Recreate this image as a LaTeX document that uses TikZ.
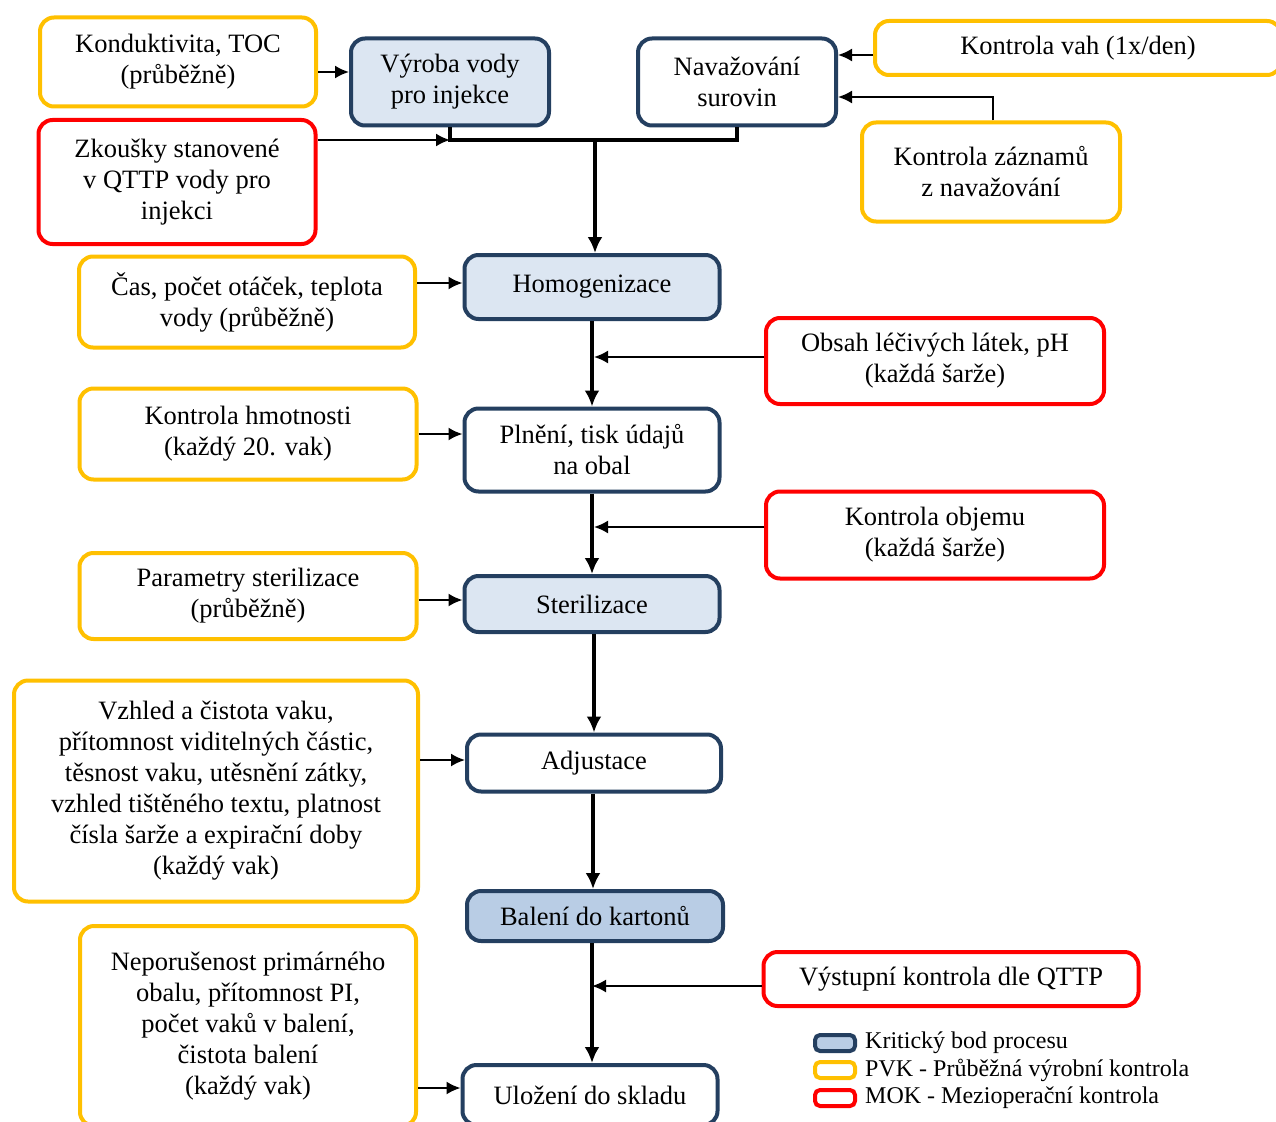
\documentclass[tikz,border=0pt]{standalone}
\usepackage{fontspec}
\setmainfont{Liberation Serif}
\usetikzlibrary{arrows.meta,calc}
\definecolor{pvkyellow}{HTML}{FFC000}
\definecolor{mokred}{HTML}{FF0000}
\definecolor{procblue}{HTML}{243F60}
\definecolor{kritfill}{HTML}{DCE6F2}
\definecolor{balfill}{HTML}{B9CDE5}
\tikzset{
  box/.style={rounded corners=14pt, line width=4pt, align=center, inner sep=2pt},
  sz/.style 2 args={minimum width=#1pt, minimum height=#2pt},
  pvk/.style={box, draw=pvkyellow, fill=white},
  mok/.style={box, draw=mokred, fill=white},
  proc/.style={box, draw=procblue, fill=white},
  krit/.style={box, draw=procblue, fill=kritfill},
  legbox/.style={rounded corners=5pt, line width=4pt, minimum width=40pt, minimum height=16pt, inner sep=0pt},
  ctrl/.style={-{Latex[length=14pt,width=13pt]}, line width=2pt},
  flow/.style={-{Latex[length=16pt,width=15pt]}, line width=4.5pt},
  bus/.style={line width=4.5pt}
}
\begin{document}
\begin{tikzpicture}[x=1pt, y=-1pt, >=Latex, font=\fontsize{26.5}{31}\selectfont]
\clip (0,0) rectangle (1276,1121);
\fill[white] (0,0) rectangle (1276,1121);

% hlavni proces
\node[krit, sz={198}{87}] (vyroba) at (450,82) {Výroba vody\\pro injekce};
\node[proc, sz={198}{87}] (navaz) at (737,82) {Navažování\\surovin};
\node[krit, sz={255}{64}] (homog) at (592,287) {Homogenizace};
\node[proc, sz={255}{83}] (plneni) at (592,450) {Plnění, tisk údajů\\na obal};
\node[krit, sz={255}{56}] (steril) at (592,604) {Sterilizace};
\node[proc, sz={254}{57}] (adjust) at (594,763) {Adjustace};
\node[krit, fill=balfill, sz={256}{50}] (baleni) at (595,916) {Balení do kartonů};
\node[proc, sz={255}{60}] (ulozeni) at (590,1095) {Uložení do skladu};

% kontroly
\node[pvk, sz={276}{89}] (kond) at (178,62) {Konduktivita, TOC\\(průběžně)};
\node[mok, sz={277}{124}] (zkous) at (177,182) {Zkoušky stanovené\\v QTTP vody pro\\injekci};
\node[pvk, sz={406}{54}] (vah) at (1078,48) {Kontrola vah (1x/den)};
\node[pvk, sz={258}{99}] (zaznam) at (991,172) {Kontrola záznamů\\z navažování};
\node[pvk, sz={336}{91}] (cas) at (247,302) {Čas, počet otáček, teplota\\vody (průběžně)};
\node[mok, sz={338}{86}] (obsah) at (935,361) {Obsah léčivých látek, pH\\(každá šarže)};
\node[pvk, sz={337}{91}] (hmot) at (248,434) {Kontrola hmotnosti\\(každý 20. vak)};
\node[mok, sz={338}{87}] (objem) at (935,535) {Kontrola objemu\\(každá šarže)};
\node[pvk, sz={337}{86}] (param) at (248,596) {Parametry sterilizace\\(průběžně)};
\node[pvk, sz={404}{221}] (vzhled) at (216,791) {Vzhled a čistota vaku,\\přítomnost viditelných částic,\\těsnost vaku, utěsnění zátky,\\vzhled tištěného textu, platnost\\čísla šarže a expirační doby\\(každý vak)};
\node[mok, sz={375}{54}] (vystup) at (951,979) {Výstupní kontrola dle QTTP};
\node[pvk, sz={336}{200}] (neporus) at (248,1026) {Neporušenost primárného\\obalu, přítomnost PI,\\počet vaků v balení,\\čistota balení\\(každý vak)};

% spojnice
\coordinate (busL) at (vyroba.south |- 0,140);
\draw[bus] (vyroba.south) -- (busL) -- (busL -| navaz.south) -- (navaz.south);
\draw[flow] (busL -| 595,0) -- (homog.north -| 595,0);
\draw[flow] (homog.south) -- (plneni.north);
\draw[flow] (plneni.south) -- (steril.north);
\draw[flow] (steril.south -| 594,0) -- (adjust.north -| 594,0);
\draw[flow] (adjust.south -| 593,0) -- (baleni.north -| 593,0);
\draw[flow] (baleni.south -| 592,0) -- (ulozeni.north -| 592,0);

\draw[ctrl] ([yshift=-10pt]kond.east) -- ([yshift=-10pt]kond.east -| vyroba.west);
\draw[ctrl] (zkous.east |- busL) -- (busL);
\draw[ctrl] ([yshift=-7pt]vah.west) -- ([yshift=-7pt]vah.west -| navaz.east);
\draw[ctrl] ([xshift=2pt]zaznam.north) |- ([yshift=-15pt]navaz.east);
\draw[ctrl] ([yshift=4pt]cas.east |- homog.west) -- ([yshift=4pt]homog.west);
\draw[ctrl] ([yshift=4pt]obsah.west) -- ([yshift=4pt,xshift=2pt]obsah.west -| homog.south);
\draw[ctrl] (hmot.east) -- (hmot.east -| plneni.west);
\draw[ctrl] ([yshift=8pt]objem.west) -- ([yshift=8pt,xshift=2pt]objem.west -| plneni.south);
\draw[ctrl] ([yshift=4pt]param.east |- steril.west) -- ([yshift=4pt]steril.west);
\draw[ctrl] ([yshift=3pt]vzhled.east |- adjust.west) -- ([yshift=3pt]adjust.west);
\draw[ctrl] ([yshift=-7pt]vystup.west) -- ([yshift=-7pt,xshift=2pt]vystup.west -| ulozeni.north);
\draw[ctrl] ([yshift=7pt]neporus.east |- ulozeni.west) -- ([yshift=7pt]ulozeni.west);

% legenda
\begin{scope}[font=\fontsize{24}{27}\selectfont]
\node[legbox, draw=procblue, fill=balfill] (lkrit) at (835,1043) {};
\node[legbox, draw=pvkyellow, fill=white] (lpvk) at (835,1070) {};
\node[legbox, draw=mokred, fill=white] (lmok) at (835,1098) {};
\node[anchor=west, inner sep=0pt] at ([xshift=8pt]lkrit.east) {Kritický bod procesu};
\node[anchor=west, inner sep=0pt] at ([xshift=8pt]lpvk.east) {PVK - Průběžná výrobní kontrola};
\node[anchor=west, inner sep=0pt] at ([xshift=8pt]lmok.east) {MOK - Mezioperační kontrola};
\end{scope}
\end{tikzpicture}
\end{document}
